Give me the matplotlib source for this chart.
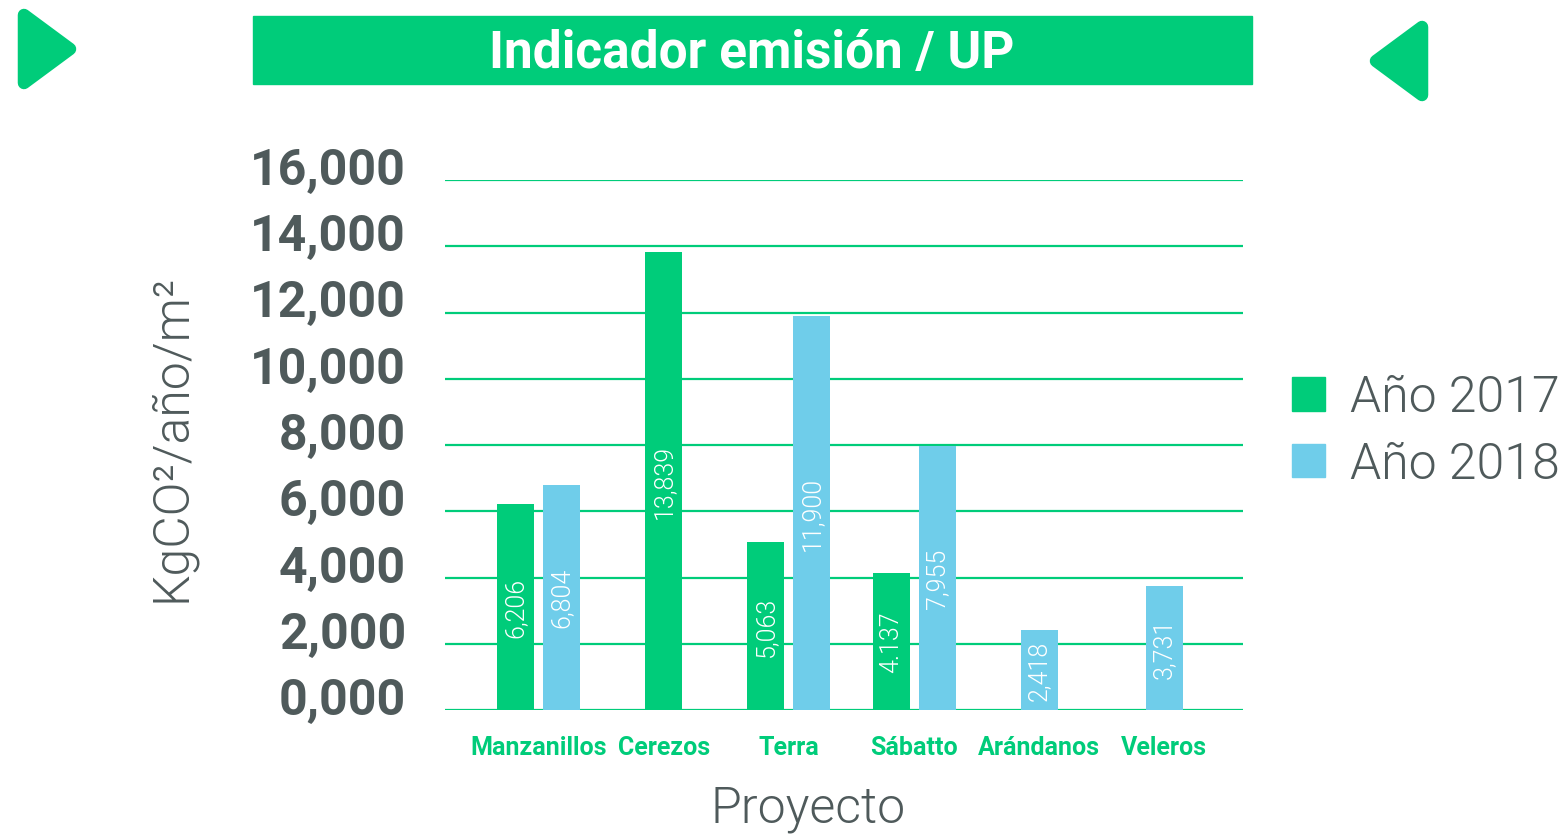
import numpy as np
import matplotlib
matplotlib.use("Agg")
import matplotlib.pyplot as plt
from matplotlib import font_manager
from matplotlib.patches import Polygon, Rectangle, Patch
from matplotlib.transforms import ScaledTranslation

# datos
proyectos = ['Manzanillos', 'Cerezos', 'Terra', 'Sábatto', 'Arándanos', 'Veleros']
valores_2017 = [6206, 13839, 5063, 4137, np.nan, np.nan]
valores_2018 = [6804, np.nan, 11900, 7955, 2418, 3731]
etiquetas_2017 = ['6,206', '13,839', '5,063', '4.137', '', '']
etiquetas_2018 = ['6,804', '', '11,900', '7,955', '2,418', '3,731']
yticks = [0, 2000, 4000, 6000, 8000, 10000, 12000, 14000, 16000]
ytick_labels = ['0,000', '2,000', '4,000', '6,000', '8,000', '10,000', '12,000', '14,000', '16,000']
series = ['Año 2017', 'Año 2018']

verde = '#00CC7A'
azul = '#6FCDEA'
gris = '#4F5A5B'

nombres = {f.name for f in font_manager.fontManager.ttflist}
fuente_titulo = 'Liberation Sans Narrow' if 'Liberation Sans Narrow' in nombres else 'Roboto'
plt.rcParams['font.family'] = ['Roboto', 'DejaVu Sans']
LIGHT = 300

W, H = 1566, 837
fig = plt.figure(figsize=(W / 100, H / 100), dpi=100)

def fx(px):
    return px / W

def fy(py):
    return 1 - py / H

ax = fig.add_axes([fx(445), fy(711), fx(1243) - fx(445), fy(181) - fy(711)])

x = np.arange(len(proyectos))
ancho = 0.296
desp = 0.184
for i in range(len(proyectos)):
    hay = [not np.isnan(valores_2017[i]), not np.isnan(valores_2018[i])]
    pares = [(valores_2017[i], etiquetas_2017[i], verde), (valores_2018[i], etiquetas_2018[i], azul)]
    activos = [p for p, h in zip(pares, hay) if h]
    offs = [0] if len(activos) == 1 else [-desp, desp]
    for (v, et, c), o in zip(activos, offs):
        ax.bar(x[i] + o, v, width=ancho, color=c, zorder=3)
        ax.text(x[i] + o, v / 2, et, rotation=90, ha='center', va='center',
                color='white', fontsize=18, fontweight=LIGHT, zorder=4)

ax.set_xlim(-0.75, 5.63)
ax.set_ylim(0, 16000)
for t in yticks:
    ax.axhline(t, color=verde, lw=1.6, zorder=1)
for s in ax.spines.values():
    s.set_visible(False)

ax.set_yticks(yticks)
ax.set_yticklabels(ytick_labels, fontsize=36, fontweight='bold', color=gris)
ax.tick_params(axis='y', length=0, pad=28)
for lab in ax.get_yticklabels():
    lab.set_transform(lab.get_transform() + ScaledTranslation(0, 0.145, fig.dpi_scale_trans))

ax.set_xticks(x)
ax.set_xticklabels(proyectos, fontsize=18, fontweight='bold', color=verde)
ax.tick_params(axis='x', length=0, pad=18)

fig.text(fx(808), fy(809), 'Proyecto', fontsize=36, fontweight=LIGHT, color=gris,
         ha='center', va='center')
fig.text(fx(172), fy(438), 'KgCO²/año/m²', fontsize=36, fontweight=LIGHT, color=gris,
         rotation=90, ha='center', va='center')

# barra del título
fig.patches.append(Rectangle((fx(253), fy(85)), fx(1252) - fx(253), fy(17) - fy(85),
                             transform=fig.transFigure, color=verde, zorder=0))
fig.text(fx(752), fy(54), 'Indicador emisión / UP', fontsize=37, fontweight='bold',
         color='white', ha='center', va='center', family=fuente_titulo)

# triángulos
tri_izq = [(fx(24), fy(16)), (fx(24), fy(84)), (fx(70), fy(50))]
tri_der = [(fx(1422), fy(28)), (fx(1422), fy(96)), (fx(1376), fy(62))]
for tri in (tri_izq, tri_der):
    fig.patches.append(Polygon(tri, closed=True, transform=fig.transFigure,
                               facecolor=verde, edgecolor=verde, lw=9, joinstyle='round'))

handles = [Patch(color=verde), Patch(color=azul)]
fig.legend(handles, series, loc='center left', bbox_to_anchor=(fx(1292), fy(432)),
           frameon=False, prop={'weight': LIGHT, 'size': 36},
           handlelength=0.66, handleheight=0.66, handletextpad=0.5, labelspacing=0.38,
           labelcolor=gris, borderaxespad=0, borderpad=0)

fig.savefig('out.png', dpi=100)
